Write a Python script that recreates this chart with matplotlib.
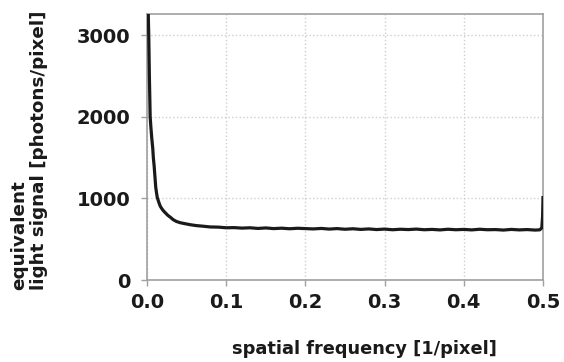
import matplotlib
matplotlib.use("Agg")
import matplotlib.pyplot as plt

# spectrum (x in 1/pixel, y in photons/pixel)
freq = [0.0016, 0.0022, 0.003, 0.004, 0.005, 0.006, 0.0073, 0.008, 0.009,
        0.010, 0.011, 0.012, 0.013, 0.015, 0.0167, 0.019, 0.021, 0.023,
        0.026, 0.030, 0.033, 0.037, 0.042, 0.048, 0.055, 0.062, 0.070,
        0.080, 0.090, 0.100, 0.110, 0.120, 0.130, 0.140, 0.150, 0.160,
        0.170, 0.180, 0.190, 0.200, 0.210, 0.220, 0.230, 0.240, 0.250,
        0.260, 0.270, 0.280, 0.290, 0.300, 0.310, 0.320, 0.330, 0.340,
        0.350, 0.360, 0.370, 0.380, 0.390, 0.400, 0.410, 0.420, 0.430,
        0.440, 0.450, 0.460, 0.470, 0.480, 0.490, 0.496, 0.4985, 0.4995, 0.5]
signal = [3260, 3000, 2500, 2000, 1860, 1740, 1610, 1500, 1400,
          1270, 1140, 1070, 1010, 950, 905, 870, 845, 825,
          795, 765, 740, 718, 702, 690, 677, 667, 660,
          650, 648, 640, 642, 636, 640, 632, 638, 630,
          635, 628, 634, 630, 626, 632, 624, 630, 622,
          628, 620, 626, 618, 624, 616, 622, 618, 624,
          616, 620, 614, 622, 616, 620, 614, 622, 616,
          618, 612, 620, 614, 618, 612, 615, 640, 780, 1010]

xticks = [0.0, 0.1, 0.2, 0.3, 0.4, 0.5]
yticks = [0, 1000, 2000, 3000]

fig = plt.figure(figsize=(5.64, 3.62), dpi=100)
ax = fig.add_axes([147 / 564, 1 - 280 / 362, 396 / 564, 266 / 362])
ax.plot(freq, signal, color="#1a1a1a", lw=2.3, zorder=3)

ax.set_xlim(0, 0.5)
ax.set_ylim(0, 3260)
ax.set_xticks(xticks)
ax.set_xticklabels([f"{v:.1f}" for v in xticks])
ax.set_yticks(yticks)
ax.grid(True, color="#cfcfcf", ls=":", lw=1.0, zorder=0)
for s in ax.spines.values():
    s.set_color("#a0a0a0")
    s.set_linewidth(1.2)
ax.tick_params(colors="#a0a0a0", length=4, width=1.0, labelcolor="#1a1a1a",
               labelsize=14, pad=8)
ax.tick_params(axis="x", pad=5)
for lab in ax.get_xticklabels() + ax.get_yticklabels():
    lab.set_fontweight("bold")
    lab.set_family("DejaVu Sans")

fig.text(364 / 564, 1 - 349 / 362, "spatial frequency [1/pixel]", fontsize=12.8,
         fontweight="bold", color="#1a1a1a", ha="center", va="center")
fig.text(29 / 564, 1 - 150 / 362, "equivalent\nlight signal [photons/pixel]",
         fontsize=13.2, fontweight="bold", color="#1a1a1a", rotation=90,
         ha="center", va="center", multialignment="left", linespacing=1.1)

fig.savefig("out.png", dpi=100)
